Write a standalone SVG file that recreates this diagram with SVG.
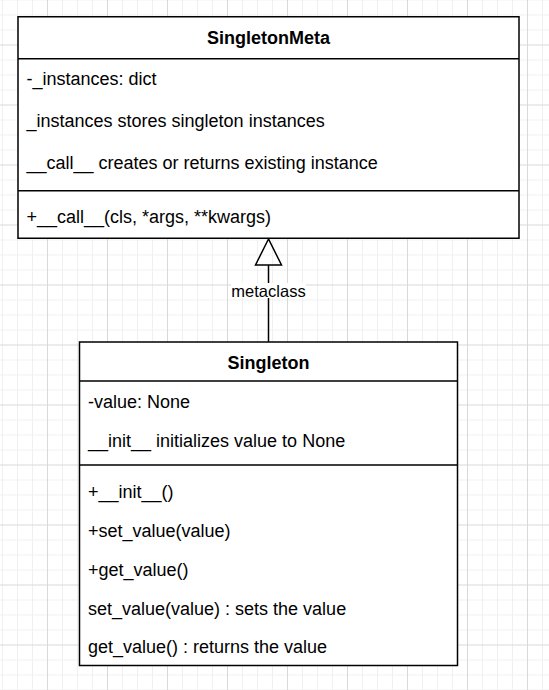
<svg xmlns="http://www.w3.org/2000/svg" width="549" height="690" viewBox="0 0 549 690">
<style>
.box{fill:#ffffff;stroke:#000000;stroke-width:1.5}
.sep{stroke:#000000;stroke-width:1.5;fill:none}
.t{font-family:"Liberation Sans",Arial,sans-serif;font-size:18px;fill:#000000}
.b{font-weight:bold;text-anchor:middle}
.lbl{font-family:"Liberation Sans",Arial,sans-serif;font-size:16.5px;fill:#000000;text-anchor:middle}
.edge{stroke:#000000;stroke-width:1.5;fill:none}
</style>
<defs>
<pattern id="grid" patternUnits="userSpaceOnUse" x="47" y="44.5" width="60" height="60">
<path d="M15.5 0V60M30.5 0V60M45.5 0V60M0 15.5H60M0 30.5H60M0 45.5H60" stroke="#f0f0f0" stroke-width="1" fill="none"/>
<path d="M0.5 0V60M0 0.5H60" stroke="#d9d9d9" stroke-width="1" fill="none"/>
</pattern>
</defs>
<rect width="549" height="690" fill="#ffffff"/>
<rect width="549" height="690" fill="url(#grid)"/>

<g id="connectors">
<path class="edge" d="M268.5 265V342"/>
<path class="edge" d="M268.5 239L255.5 265H281.5Z" fill="#ffffff"/>
<rect x="231" y="283" width="75" height="15" fill="#ffffff"/>
<text class="lbl" x="268.5" y="296.5">metaclass</text>
</g>

<g id="SingletonMeta">
<rect class="box" x="18" y="16.75" width="501" height="221.5"/>
<path class="sep" d="M18 58.75H519M18 190.75H519"/>
<text class="t b" x="268.5" y="43.5">SingletonMeta</text>
<text class="t" x="26.5" y="85">-_instances: dict</text>
<text class="t" x="26.5" y="127">_instances stores singleton instances</text>
<text class="t" x="26.5" y="169">__call__ creates or returns existing instance</text>
<text class="t" x="26.5" y="222.5">+__call__(cls, *args, **kwargs)</text>
</g>

<g id="Singleton">
<rect class="box" x="79.5" y="342" width="378" height="323.5"/>
<path class="sep" d="M79.5 381H457.5M79.5 465H457.5"/>
<text class="t b" x="268.5" y="368.5">Singleton</text>
<text class="t" x="88" y="407.5">-value: None</text>
<text class="t" x="88" y="446.5">__init__ initializes value to None</text>
<text class="t" x="88" y="497.5">+__init__()</text>
<text class="t" x="88" y="536.5">+set_value(value)</text>
<text class="t" x="88" y="575.5">+get_value()</text>
<text class="t" x="88" y="614.5">set_value(value) : sets the value</text>
<text class="t" x="88" y="653">get_value() : returns the value</text>
</g>
</svg>
